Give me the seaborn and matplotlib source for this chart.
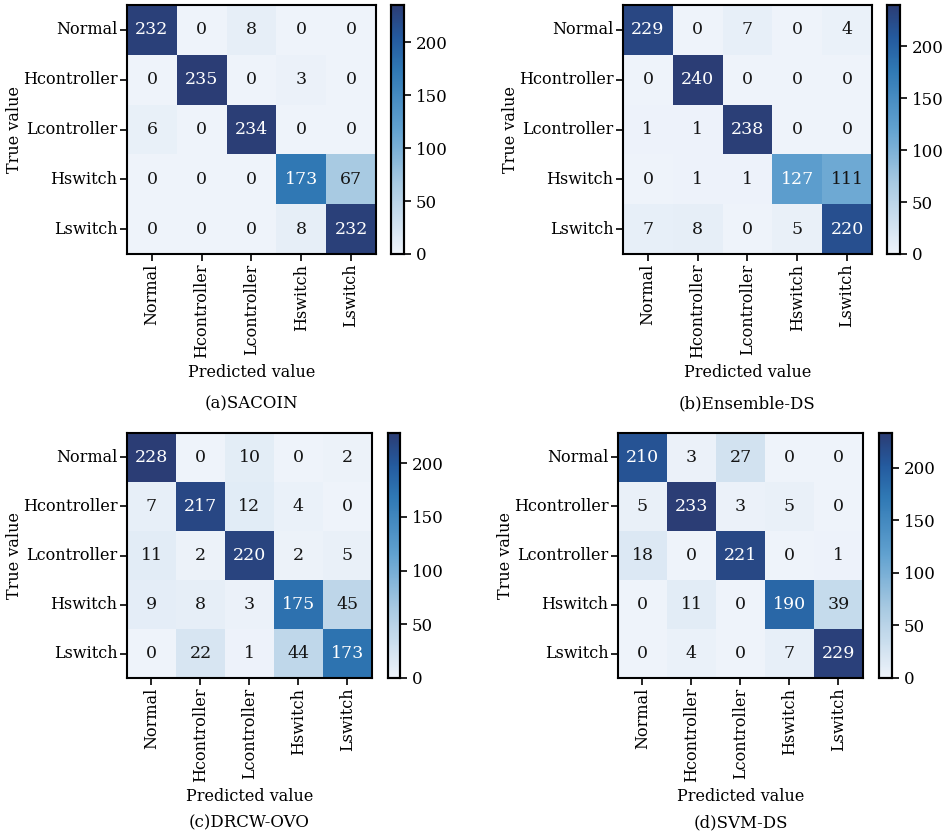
import numpy as np
import pandas as pd
import matplotlib
matplotlib.use("Agg")
import matplotlib.pyplot as plt
from matplotlib.colors import LinearSegmentedColormap
import seaborn as sns

classes = ['Normal', 'Hcontroller', 'Lcontroller', 'Hswitch', 'Lswitch']

cm_sacoin = [[232, 0, 8, 0, 0],
             [0, 235, 0, 3, 0],
             [6, 0, 234, 0, 0],
             [0, 0, 0, 173, 67],
             [0, 0, 0, 8, 232]]

cm_ensemble = [[229, 0, 7, 0, 4],
               [0, 240, 0, 0, 0],
               [1, 1, 238, 0, 0],
               [0, 1, 1, 127, 111],
               [7, 8, 0, 5, 220]]

cm_drcw = [[228, 0, 10, 0, 2],
           [7, 217, 12, 4, 0],
           [11, 2, 220, 2, 5],
           [9, 8, 3, 175, 45],
           [0, 22, 1, 44, 173]]

cm_svm = [[210, 3, 27, 0, 0],
          [5, 233, 3, 5, 0],
          [18, 0, 221, 0, 1],
          [0, 11, 0, 190, 39],
          [0, 4, 0, 7, 229]]

captions = ['(a)SACOIN', '(b)Ensemble-DS', '(c)DRCW-OVO', '(d)SVM-DS']
matrices = [cm_sacoin, cm_ensemble, cm_drcw, cm_svm]

# a slightly muted Blues, as in the reference
blues = LinearSegmentedColormap.from_list(
    'muted_blues',
    [(0.0, '#eef3fa'), (0.28, '#a9cae2'), (0.5, '#62a2d0'),
     (0.74, '#2f78b4'), (0.87, '#245a9e'), (1.0, '#2b3d75')])

sns.set_theme(style="ticks")
plt.rcParams['font.family'] = ['DejaVu Serif']
plt.rcParams['font.size'] = 11.5

W, H = 945, 836
fig = plt.figure(figsize=(W / 100, H / 100), dpi=100)

# pixel boxes: heatmap (x0, y0, x1, y1), colorbar x0, x1, caption y
boxes = [
    (127, 5, 376, 254, 391, 404, 404),
    (623, 5, 872, 254, 887, 900, 404),
    (127, 433, 372, 678, 388, 400, 823),
    (618, 433, 863, 678, 879, 892, 823),
]

def fbox(x0, y0, x1, y1):
    return [x0 / W, 1 - y1 / H, (x1 - x0) / W, (y1 - y0) / H]

for cm, cap, (x0, y0, x1, y1, cx0, cx1, capy) in zip(matrices, captions, boxes):
    df = pd.DataFrame(cm, index=classes, columns=classes)
    vmax = df.values.max()
    ax = fig.add_axes(fbox(x0, y0, x1, y1))
    cax = fig.add_axes(fbox(cx0, y0, cx1, y1))
    sns.heatmap(df, ax=ax, cbar_ax=cax, cmap=blues, vmin=0, vmax=vmax,
                annot=True, fmt='d', annot_kws={'size': 12.5})
    for t in ax.texts:
        t.set_color('white' if int(t.get_text()) / vmax > 0.5 else '#151515')
    ax.tick_params(axis='both', length=5, width=1.2, labelsize=11.5,
                   bottom=True, left=True, colors='black', pad=2)
    ax.set_xticklabels(classes, rotation=90)
    ax.set_yticklabels(classes, rotation=0)
    ax.set_xlabel('Predicted value', fontsize=11.5, color='black', labelpad=4)
    ax.set_ylabel('True value', fontsize=11.5, color='black', labelpad=0)
    for s in ax.spines.values():
        s.set_visible(True)
        s.set_linewidth(1.5)
        s.set_color('black')
    cax.set_yticks([0, 50, 100, 150, 200])
    cax.tick_params(length=5, width=1.2, labelsize=12, colors='black')
    for s in cax.spines.values():
        s.set_visible(True)
        s.set_linewidth(1.5)
        s.set_color('black')
    fig.text(((x0 + x1) / 2) / W, 1 - capy / H, cap, ha='center', va='center',
             fontsize=12, color='black')

fig.savefig('out.png', dpi=100)
